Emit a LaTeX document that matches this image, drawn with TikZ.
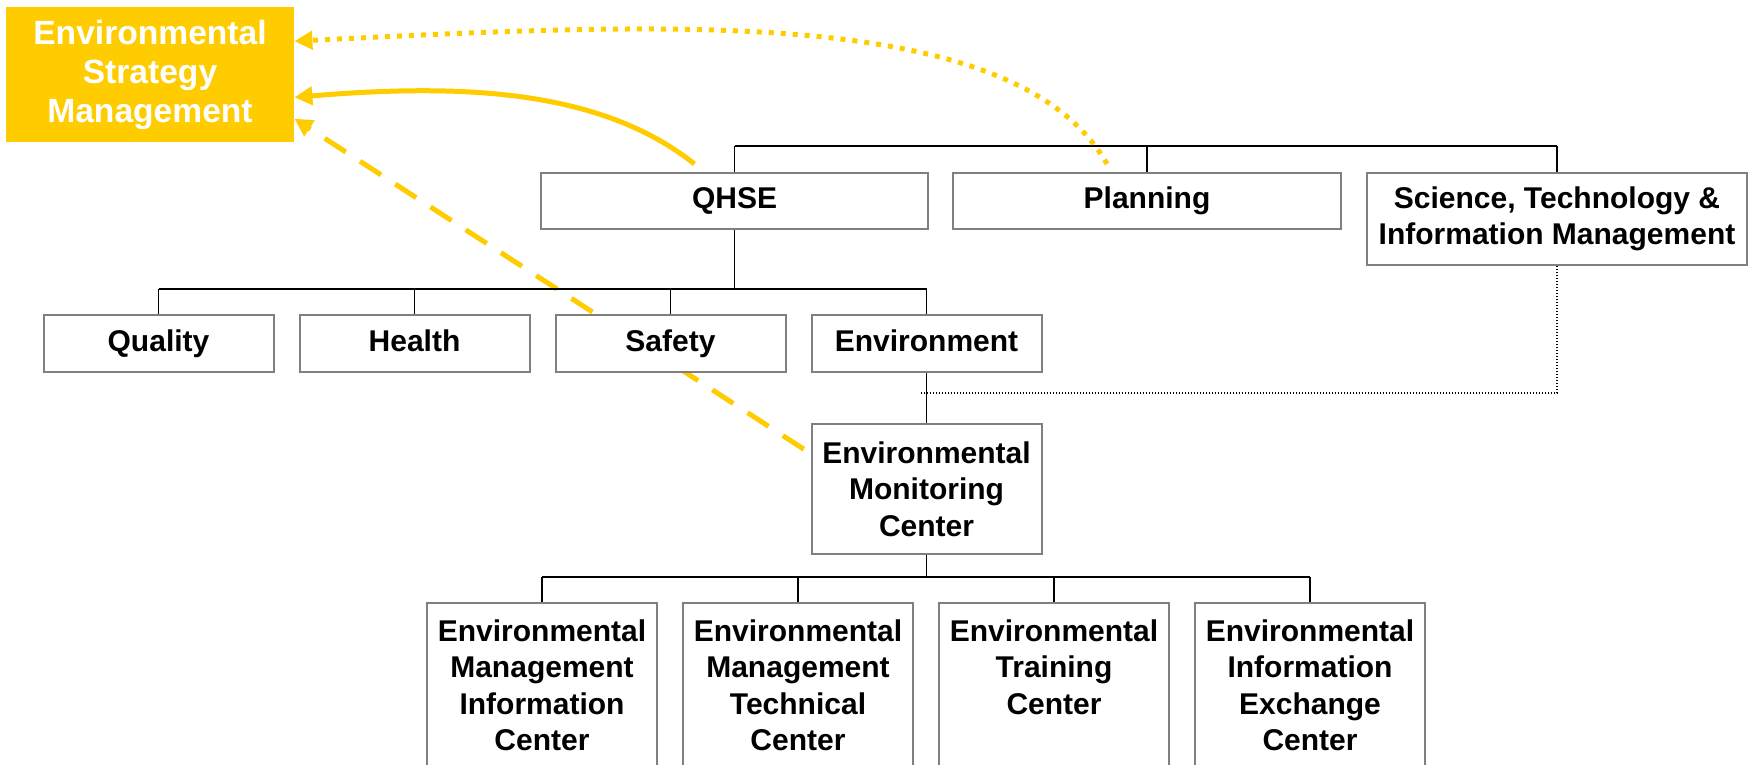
\documentclass[tikz,border=0pt]{standalone}
\usepackage{fontspec}
\setmainfont{Liberation Sans}
\usepackage{tikz}
\usetikzlibrary{arrows.meta, positioning, calc, backgrounds}
\definecolor{gold}{RGB}{255,204,0}
\definecolor{frame}{RGB}{128,128,128}

\begin{document}
\begin{tikzpicture}[
    orgbox/.style={rectangle, draw=frame, line width=1pt, fill=white, minimum width=115pt, minimum height=28.5pt, align=center, inner xsep=3pt, font=\fontsize{15}{18.3}\selectfont\bfseries},
    oneline/.style={text height=11pt, text depth=3.5pt},
    leafbox/.style={rectangle, draw=frame, line width=1pt, fill=white, minimum width=115pt, anchor=north, inner xsep=2.5pt, inner ysep=8pt, text height=11pt, text depth=75pt, font=\fontsize{15}{18.3}\selectfont\bfseries},
    topbox/.style={rectangle, fill=gold, text=white, minimum width=144pt, minimum height=67.5pt, align=center, font=\fontsize{16.8}{19.5}\selectfont\bfseries},
    bus/.style={line width=1.2pt},
    stub/.style={line width=0.8pt},
    tie/.style={line width=0.6pt, dash pattern=on 0.6pt off 0.9pt},
    link/.style={gold, line width=2.5pt, -{Triangle[length=9pt,width=9pt]}}
]
\useasboundingbox (0,0) rectangle (875pt,-382.5pt);

\node[topbox] (esm) at (75pt,-37.25pt) {Environmental\\Strategy\\Management};

% first level
\node[orgbox, oneline, minimum width=193.5pt, minimum height=28pt] (qhse) at (367.25pt,-100.5pt) {QHSE};
\node[orgbox, oneline, minimum width=194pt, minimum height=28pt, right=11.5pt of qhse] (plan) {Planning};
\node[orgbox, minimum width=190pt, minimum height=46pt, anchor=north west, inner ysep=5pt] (sci) at ([xshift=12pt]plan.north east) {Science, Technology \&\\Information Management};

% QHSE units
\node[orgbox, oneline] (qual) at (79.25pt,-171.75pt) {Quality};
\node[orgbox, oneline, right=12pt of qual] (hlth) {Health};
\node[orgbox, oneline, right=12pt of hlth] (safe) {Safety};
\node[orgbox, oneline, right=12pt of safe] (env) {Environment};

\node[orgbox, minimum height=65pt, below=25pt of env] (emc) {Environmental\\Monitoring\\Center};

% centers under monitoring
\node[leafbox] (emic) at (271pt,-301pt) {\parbox[t]{110pt}{\centering Environmental\\Management\\Information\\Center}};
\node[leafbox, right=12pt of emic] (emtc) {\parbox[t]{110pt}{\centering Environmental\\Management\\Technical\\Center}};
\node[leafbox, right=12pt of emtc] (etc) {\parbox[t]{110pt}{\centering Environmental\\Training\\Center}};
\node[leafbox, right=12pt of etc] (eiec) {\parbox[t]{110pt}{\centering Environmental\\Information\\Exchange\\Center}};

% tree lines
\coordinate (t1) at ([yshift=13pt]qhse.north);
\draw[bus] (t1) -- (t1 -| sci.north);
\draw[stub] (qhse.north) -- (t1);
\draw[stub] (plan.north) -- (plan.north |- t1);
\draw[stub] (sci.north) -- (sci.north |- t1);

\coordinate (t2) at ([yshift=12.5pt]qual.north);
\draw[bus] (t2) -- (t2 -| env.north);
\draw[stub] (qhse.south) -- (qhse.south |- t2);
\draw[stub] (qual.north) -- (t2);
\draw[stub] (hlth.north) -- (hlth.north |- t2);
\draw[stub] (safe.north) -- (safe.north |- t2);
\draw[stub] (env.north) -- (env.north |- t2);

\draw[stub] (env.south) -- (emc.north);

\coordinate (t3) at ([yshift=12.5pt]emic.north);
\draw[bus] (t3) -- (t3 -| eiec.north);
\draw[stub] (emc.south) -- (emc.south |- t3);
\draw[stub] (emic.north) -- (t3);
\draw[stub] (emtc.north) -- (emtc.north |- t3);
\draw[stub] (etc.north) -- (etc.north |- t3);
\draw[stub] (eiec.north) -- (eiec.north |- t3);

\draw[tie] (sci.south) |- ([shift={(-3pt,-10pt)}]env.south);

% links to strategy management
\draw[link, dash pattern=on 2.5pt off 3.5pt] ($(plan.north)+(-20pt,4pt)$) .. controls +(-45.5pt,80.5pt) and +(183pt,9pt) .. (esm.13);
\draw[link] ($(qhse.north)+(-20pt,4pt)$) .. controls +(-47pt,37.5pt) and +(83pt,7pt) .. (esm.-9);
\begin{scope}[on background layer]
\draw[link, dash pattern=on 12.5pt off 8.5pt, shorten <=4pt] (emc.163) -- (esm.-17);
\end{scope}

\end{tikzpicture}
\end{document}
